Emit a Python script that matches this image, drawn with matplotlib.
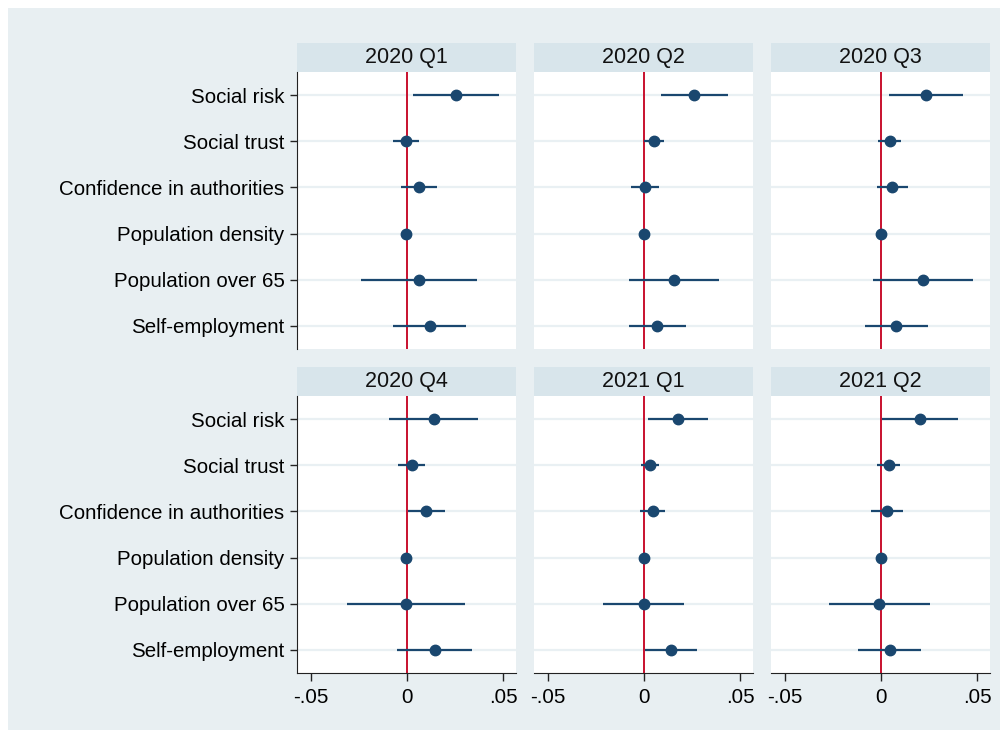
import matplotlib
matplotlib.use("Agg")
import matplotlib.pyplot as plt
from matplotlib.patches import Rectangle

plt.rcParams["font.family"] = ["Liberation Sans", "DejaVu Sans"]

variables = ["Social risk", "Social trust", "Confidence in authorities",
             "Population density", "Population over 65", "Self-employment"]
periods = ["2020 Q1", "2020 Q2", "2020 Q3", "2020 Q4", "2021 Q1", "2021 Q2"]

# point estimates and 95% CI bounds, one list per period (order follows `variables`)
coef_2020q1 = [0.0254, -0.0007, 0.0060, -0.0003, 0.0064, 0.0117]
lo_2020q1 = [0.0033, -0.0074, -0.0033, -0.0008, -0.0237, -0.0073]
hi_2020q1 = [0.0478, 0.0062, 0.0154, 0.0003, 0.0364, 0.0304]

coef_2020q2 = [0.0261, 0.0050, 0.0005, 0.0000, 0.0154, 0.0069]
lo_2020q2 = [0.0090, 0.0000, -0.0066, -0.0005, -0.0078, -0.0076]
hi_2020q2 = [0.0435, 0.0104, 0.0078, 0.0005, 0.0387, 0.0218]

coef_2020q3 = [0.0233, 0.0045, 0.0057, -0.0002, 0.0218, 0.0078]
lo_2020q3 = [0.0040, -0.0014, -0.0022, -0.0007, -0.0041, -0.0085]
hi_2020q3 = [0.0423, 0.0105, 0.0138, 0.0003, 0.0477, 0.0242]

coef_2020q4 = [0.0138, 0.0026, 0.0100, -0.0003, -0.0007, 0.0143]
lo_2020q4 = [-0.0092, -0.0047, 0.0005, -0.0008, -0.0313, -0.0052]
hi_2020q4 = [0.0370, 0.0095, 0.0197, 0.0002, 0.0300, 0.0338]

coef_2021q1 = [0.0176, 0.0031, 0.0045, -0.0002, -0.0002, 0.0142]
lo_2021q1 = [0.0021, -0.0017, -0.0021, -0.0007, -0.0212, 0.0007]
hi_2021q1 = [0.0332, 0.0078, 0.0110, 0.0003, 0.0209, 0.0273]

coef_2021q2 = [0.0202, 0.0040, 0.0031, -0.0002, -0.0010, 0.0045]
lo_2021q2 = [0.0007, -0.0022, -0.0052, -0.0007, -0.0271, -0.0121]
hi_2021q2 = [0.0399, 0.0100, 0.0112, 0.0003, 0.0252, 0.0209]

coefs = [coef_2020q1, coef_2020q2, coef_2020q3, coef_2020q4, coef_2021q1, coef_2021q2]
lows = [lo_2020q1, lo_2020q2, lo_2020q3, lo_2020q4, lo_2021q1, lo_2021q2]
highs = [hi_2020q1, hi_2020q2, hi_2020q3, hi_2020q4, hi_2021q1, hi_2021q2]

BG = "#e8eff2"
STRIP = "#d8e5eb"
GRID = "#e9f0f3"
NAVY = "#1a476f"
RED = "#c8102e"

W, H = 1008, 738
fig = plt.figure(figsize=(W / 100, H / 100), dpi=100)
fig.patch.set_facecolor("white")
fig.patches.append(Rectangle((8 / W, 8 / H), 992 / W, 722 / H, transform=fig.transFigure,
                             facecolor=BG, edgecolor="none", zorder=-10))

col_left = [297, 534, 771]
row_top = [72, 396]
pw, ph = 219, 277
strip_h = 29

ypos = list(range(1, len(variables) + 1))

for i, period in enumerate(periods):
    r, c = divmod(i, 3)
    ax = fig.add_axes([col_left[c] / W, 1 - (row_top[r] + ph) / H, pw / W, ph / H])
    ax.set_facecolor("white")
    ax.set_xlim(-0.057, 0.0565)
    ax.set_ylim(6.5, 0.5)

    for y in ypos:
        ax.axhline(y, color=GRID, lw=1.6, zorder=0)
    ax.axvline(0, color=RED, lw=1.4, zorder=1)

    ax.hlines(ypos, lows[i], highs[i], color=NAVY, lw=1.6, zorder=2)
    ax.plot(coefs[i], ypos, "o", color=NAVY, ms=7.5, zorder=3)

    for s in ax.spines.values():
        s.set_visible(False)

    ax.set_yticks(ypos)
    if c == 0:
        ax.spines["left"].set_visible(True)
        ax.spines["left"].set_color("#222222")
        ax.set_yticklabels(variables, fontsize=14.8)
        ax.tick_params(axis="y", length=5, width=1, color="#222222", pad=4)
    else:
        ax.set_yticklabels([])
        ax.tick_params(axis="y", length=0)

    ax.set_xticks([-0.05, 0, 0.05])
    if r == 1:
        ax.spines["bottom"].set_visible(True)
        ax.spines["bottom"].set_color("#222222")
        ax.set_xticklabels(["-.05", "0", ".05"], fontsize=14.8)
        ax.tick_params(axis="x", length=6, width=1, color="#222222", pad=5)
    else:
        ax.set_xticklabels([])
        ax.tick_params(axis="x", length=0)

    ax.add_patch(Rectangle((0, 1), 1, strip_h / ph, transform=ax.transAxes,
                           facecolor=STRIP, edgecolor="none", clip_on=False))
    ax.text(0.5, 1 + strip_h / ph / 2, period, transform=ax.transAxes,
            ha="center", va="center", fontsize=15.5, color="#111111")

fig.savefig("out.png", dpi=100, facecolor=fig.get_facecolor())
